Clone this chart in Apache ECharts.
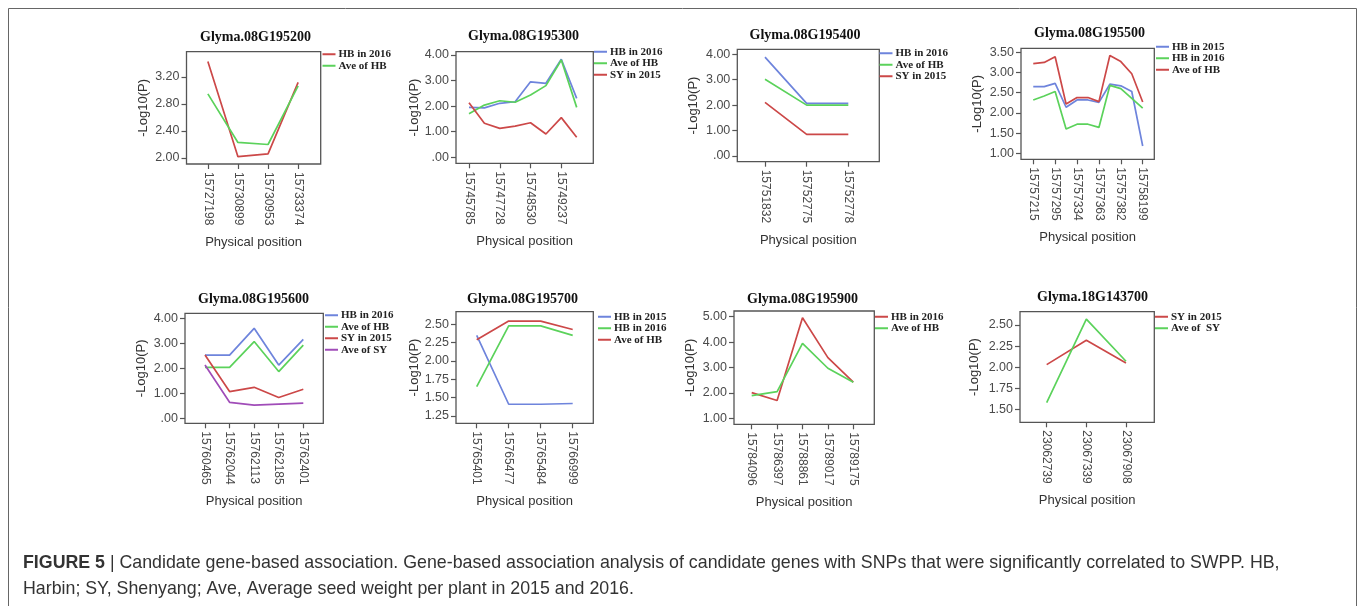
<!DOCTYPE html>
<html>
<head>
<meta charset="utf-8">
<script src="https://cdn.jsdelivr.net/npm/echarts@6/dist/echarts.min.js"></script>
<style>
html,body{margin:0;padding:0;background:#fff;}
#chart{width:1358px;height:606px;}
</style>
</head>
<body>
<div id="chart"></div>
<script>
// ---------------- DATA ----------------
const geneTitles = ['Glyma.08G195200','Glyma.08G195300','Glyma.08G195400','Glyma.08G195500',
                    'Glyma.08G195600','Glyma.08G195700','Glyma.08G195900','Glyma.18G143700'];

// Panel 1: Glyma.08G195200
const p1Positions = ['15727198','15730899','15730953','15733374'];
const p1HB2016 = [3.43, 2.02, 2.06, 3.12];
const p1AveHB  = [2.95, 2.23, 2.20, 3.07];
const p1YTicks = [2.00, 2.40, 2.80, 3.20];

// Panel 2: Glyma.08G195300 (every other position labelled)
const p2Positions = ['15745785', null, '15747728', null, '15748530', null, '15749237', null];
const p2HB2016 = [1.95, 1.93, 2.11, 2.17, 2.95, 2.89, 3.83, 2.30];
const p2AveHB  = [1.70, 2.04, 2.21, 2.15, 2.43, 2.80, 3.80, 1.95];
const p2SY2015 = [2.13, 1.33, 1.13, 1.22, 1.35, 0.91, 1.55, 0.78];
const p2YTicks = [0, 1, 2, 3, 4];

// Panel 3: Glyma.08G195400
const p3Positions = ['15751832','15752775','15752778'];
const p3HB2016 = [3.89, 2.07, 2.07];
const p3AveHB  = [3.02, 2.00, 2.00];
const p3SY2015 = [2.11, 0.85, 0.85];
const p3YTicks = [0, 1, 2, 3, 4];

// Panel 4: Glyma.08G195500 (every other position labelled)
const p4Positions = ['15757215', null, '15757295', null, '15757334', null, '15757363', null, '15757382', null, '15758199'];
const p4HB2015 = [2.65, 2.65, 2.73, 2.14, 2.32, 2.32, 2.26, 2.71, 2.67, 2.53, 1.18];
const p4HB2016 = [2.32, 2.42, 2.53, 1.60, 1.72, 1.72, 1.64, 2.68, 2.60, 2.36, 2.12];
const p4AveHB  = [3.22, 3.25, 3.39, 2.22, 2.38, 2.38, 2.28, 3.42, 3.27, 2.97, 2.27];
const p4YTicks = [1.00, 1.50, 2.00, 2.50, 3.00, 3.50];

// Panel 5: Glyma.08G195600
const p5Positions = ['15760465','15762044','15762113','15762185','15762401'];
const p5HB2016 = [2.53, 2.53, 3.60, 2.13, 3.16];
const p5AveHB  = [2.04, 2.04, 3.07, 1.87, 2.93];
const p5SY2015 = [2.53, 1.07, 1.24, 0.83, 1.16];
const p5AveSY  = [2.13, 0.64, 0.53, 0.57, 0.61];
const p5YTicks = [0, 1, 2, 3, 4];

// Panel 6: Glyma.08G195700
const p6Positions = ['15765401','15765477','15765484','15766999'];
const p6HB2015 = [2.35, 1.41, 1.41, 1.42];
const p6HB2016 = [1.65, 2.48, 2.48, 2.35];
const p6AveHB  = [2.29, 2.545, 2.545, 2.43];
const p6YTicks = [1.25, 1.50, 1.75, 2.00, 2.25, 2.50];

// Panel 7: Glyma.08G195900
const p7Positions = ['15784096','15786397','15788861','15789017','15789175'];
const p7HB2016 = [2.01, 1.70, 4.96, 3.39, 2.42];
const p7AveHB  = [1.89, 2.05, 3.95, 2.97, 2.42];
const p7YTicks = [1, 2, 3, 4, 5];

// Panel 8: Glyma.18G143700
const p8Positions = ['23062739','23067339','23067908'];
const p8SY2015 = [2.03, 2.32, 2.05];
const p8AveSY  = [1.58, 2.57, 2.07];
const p8YTicks = [1.50, 1.75, 2.00, 2.25, 2.50];

const captionBold = 'FIGURE 5';
const captionLine1 = 'Candidate gene-based association. Gene-based association analysis of candidate genes with SNPs that were significantly correlated to SWPP. HB,';
const captionLine2 = 'Harbin; SY, Shenyang; Ave, Average seed weight per plant in 2015 and 2016.';

// ---------------- STYLE / LAYOUT ----------------
const RED = '#cc4848', GREEN = '#5bd25b', BLUE = '#6e84dc', PURPLE = '#a04cb8';

const panels = [
  {title: geneTitles[0], pos: p1Positions, yTicks: p1YTicks,
   series: [['HB in 2016', p1HB2016, RED], ['Ave of HB', p1AveHB, GREEN]],
   box: [186.5, 51.7, 320.7, 164], x: [-0.71, 3.75], y: [1.911, 3.575], tx: 255.5, ty: 37.5, lg: [322.5, 48.5], yng: 37},
  {title: geneTitles[1], pos: p2Positions, yTicks: p2YTicks,
   series: [['HB in 2016', p2HB2016, BLUE], ['Ave of HB', p2AveHB, GREEN], ['SY in 2015', p2SY2015, RED]],
   box: [456, 51.7, 593.3, 163.3], x: [-0.845, 8.08], y: [-0.234, 4.125], tx: 523.5, ty: 36, lg: [594, 46], yng: 32},
  {title: geneTitles[2], pos: p3Positions, yTicks: p3YTicks,
   series: [['HB in 2016', p3HB2016, BLUE], ['Ave of HB', p3AveHB, GREEN], ['SY in 2015', p3SY2015, RED]],
   box: [737.3, 49.3, 879.3, 161.7], x: [-0.665, 2.744], y: [-0.224, 4.196], tx: 805, ty: 35, lg: [879.5, 47.5], yng: 37},
  {title: geneTitles[3], pos: p4Positions, yTicks: p4YTicks,
   series: [['HB in 2015', p4HB2015, BLUE], ['HB in 2016', p4HB2016, GREEN], ['Ave of HB', p4AveHB, RED]],
   box: [1021, 48.3, 1154.3, 159.3], x: [-1.12, 11.06], y: [0.851, 3.599], tx: 1089.5, ty: 33, lg: [1156, 41], yng: 37},
  {title: geneTitles[4], pos: p5Positions, yTicks: p5YTicks,
   series: [['HB in 2016', p5HB2016, BLUE], ['Ave of HB', p5AveHB, GREEN], ['SY in 2015', p5SY2015, RED], ['Ave of SY', p5AveSY, PURPLE]],
   box: [185, 313.3, 323.3, 423.3], x: [-0.814, 4.814], y: [-0.2, 4.2], tx: 253.5, ty: 299, lg: [325, 309.5], yng: 37},
  {title: geneTitles[5], pos: p6Positions, yTicks: p6YTicks,
   series: [['HB in 2015', p6HB2015, BLUE], ['HB in 2016', p6HB2016, GREEN], ['Ave of HB', p6AveHB, RED]],
   box: [456, 311.7, 593.3, 423.3], x: [-0.647, 3.644], y: [1.150, 2.673], tx: 522.5, ty: 299, lg: [598, 311], yng: 32},
  {title: geneTitles[6], pos: p7Positions, yTicks: p7YTicks,
   series: [['HB in 2016', p7HB2016, RED], ['Ave of HB', p7AveHB, GREEN]],
   box: [734, 311, 874.3, 424.3], x: [-0.697, 4.827], y: [0.764, 5.224], tx: 802.5, ty: 299, lg: [875, 311], yng: 37},
  {title: geneTitles[7], pos: p8Positions, yTicks: p8YTicks,
   series: [['SY in 2015', p8SY2015, RED], ['Ave of  SY', p8AveSY, GREEN]],
   box: [1020, 311.7, 1154.3, 422.3], x: [-0.673, 2.714], y: [1.346, 2.658], tx: 1092.5, ty: 297.7, lg: [1155, 311], yng: 39}
];

const SANS = 'Liberation Sans, Arial, sans-serif';
const SERIF = 'Liberation Serif, Times New Roman, serif';
const fmtY = v => v.toFixed(2).replace(/^0\./, '.');

const grid = [], xAxis = [], yAxis = [], series = [], legend = [], graphic = [];

panels.forEach((p, k) => {
  const [x1, y1, x2, y2] = p.box;
  grid.push({left: x1, top: y1, width: x2 - x1, height: y2 - y1, show: true,
             borderColor: '#555', borderWidth: 1.3, backgroundColor: 'transparent', containLabel: false});
  const labelIdx = p.pos.map((s, i) => s === null ? -1 : i).filter(i => i >= 0);
  xAxis.push({type: 'value', gridIndex: k, min: p.x[0], max: p.x[1], position: 'bottom',
    axisLine: {show: false, onZero: false}, splitLine: {show: false},
    axisTick: {show: true, customValues: labelIdx, length: 5, lineStyle: {color: '#555', width: 1.2}},
    axisLabel: {customValues: labelIdx, formatter: v => p.pos[Math.round(v)] || '', rotate: -90, margin: 8,
                fontSize: 12, color: '#4a4a4a', fontFamily: SANS},
    name: 'Physical position', nameLocation: 'middle', nameGap: 72,
    nameTextStyle: {fontSize: 13, color: '#333', fontFamily: SANS}});
  yAxis.push({type: 'value', gridIndex: k, min: p.y[0], max: p.y[1], position: 'left',
    axisLine: {show: false, onZero: false}, splitLine: {show: false},
    axisTick: {show: true, customValues: p.yTicks, length: 5, lineStyle: {color: '#555', width: 1.2}},
    axisLabel: {customValues: p.yTicks, formatter: fmtY, margin: 7, fontSize: 12.5, color: '#4a4a4a', fontFamily: SANS},
    name: '-Log10(P)', nameLocation: 'middle', nameGap: p.yng, nameRotate: 90,
    nameTextStyle: {fontSize: 13, color: '#333', fontFamily: SANS}});
  p.series.forEach(([name, vals, color]) => {
    series.push({type: 'line', name: name, xAxisIndex: k, yAxisIndex: k,
      data: vals.map((v, i) => [i, v]), showSymbol: false, symbol: 'none', silent: true,
      lineStyle: {width: 1.7, color: color}, itemStyle: {color: color}, animation: false});
  });
  legend.push({orient: 'vertical', left: p.lg[0], top: p.lg[1], padding: 0, itemGap: 0,
    itemWidth: 13, itemHeight: 2, icon: 'rect', selectedMode: false,
    textStyle: {fontFamily: SERIF, fontWeight: 'bold', fontSize: 11, color: '#222', lineHeight: 11.5, padding: [0, 0, 0, -2]},
    data: p.series.map(([name, vals, color]) => ({name: name, icon: 'rect', itemStyle: {color: color}}))});
  graphic.push({type: 'text', x: p.tx, y: p.ty, silent: true,
    style: {text: p.title, fontFamily: SERIF, fontWeight: 'bold', fontSize: 14, fill: '#111',
            textAlign: 'center', textVerticalAlign: 'middle'}});
});

graphic.push({type: 'rect', silent: true, shape: {x: 8.5, y: 8.5, width: 1348, height: 640},
  style: {fill: 'none', stroke: '#666', lineWidth: 1}});
graphic.push({type: 'text', x: 23, y: 563, silent: true,
  style: {text: '{b|' + captionBold + '} {bar||} ' + captionLine1, fontFamily: SANS, fontSize: 17.8, fill: '#333',
          textVerticalAlign: 'middle',
          rich: {b: {fontWeight: 'bold', fontFamily: SANS, fontSize: 17.8, fill: '#333'},
                 bar: {fontFamily: SANS, fontSize: 17.8, fill: '#333'}}}});
graphic.push({type: 'text', x: 23, y: 589, silent: true,
  style: {text: captionLine2, fontFamily: SANS, fontSize: 17.8, fill: '#333', textVerticalAlign: 'middle'}});

const chart = echarts.init(document.getElementById('chart'), null, {renderer: 'canvas'});
chart.setOption({backgroundColor: '#fff', animation: false, grid, xAxis, yAxis, series, legend, graphic});
</script>
</body>
</html>
